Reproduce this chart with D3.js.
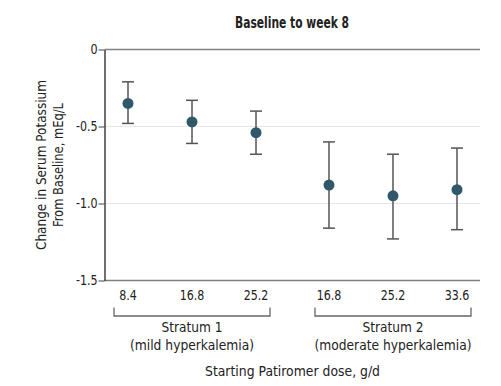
<!DOCTYPE html>
<html>
<head>
<meta charset="utf-8">
<script src="https://cdn.jsdelivr.net/npm/d3@7"></script>
<style>
  body { margin: 0; background: #fff; }
  svg text { font-family: "DejaVu Sans Condensed", "Liberation Sans Narrow", "Roboto", sans-serif; fill: #222; }
</style>
</head>
<body>
<svg id="chart" width="501" height="386"></svg>
<script>
const doses = ["8.4", "16.8", "25.2", "16.8", "25.2", "33.6"];
const slots = [0, 1, 2, 3.14, 4.14, 5.14];
const mean = [-0.35, -0.47, -0.54, -0.88, -0.95, -0.91];
const lower = [-0.48, -0.61, -0.68, -1.16, -1.23, -1.17];
const upper = [-0.21, -0.33, -0.40, -0.60, -0.68, -0.64];
const yTicks = [0, -0.5, -1.0, -1.5];
const strata = [
  { name: "Stratum 1", sub: "(mild hyperkalemia)", from: 0, to: 2 },
  { name: "Stratum 2", sub: "(moderate hyperkalemia)", from: 3, to: 5 }
];

const svg = d3.select("#chart");
const plotL = 104.5, plotR = 480, plotT = 49.5, plotB = 280.5;

const x = d3.scaleLinear().domain([0, 5.14]).range([128, 457]);
const y = d3.scaleLinear().domain([0, -1.5]).range([plotT, plotB]);

// squeeze text horizontally to get a condensed look
function squeeze(sel, ratio) {
  sel.each(function() {
    const len = this.getComputedTextLength();
    d3.select(this).attr("textLength", (len * ratio).toFixed(1))
      .attr("lengthAdjust", "spacingAndGlyphs");
  });
  return sel;
}
function squeezeTo(sel, w) {
  return sel.attr("textLength", w).attr("lengthAdjust", "spacingAndGlyphs");
}

// gridlines
svg.append("g")
  .selectAll("line")
  .data([-0.5, -1.0])
  .join("line")
    .attr("x1", plotL).attr("x2", plotR)
    .attr("y1", d => y(d)).attr("y2", d => y(d))
    .attr("stroke", "#e6e6e6")
    .attr("stroke-width", 1.2);

// top line and bottom axis
svg.append("line")
  .attr("x1", plotL).attr("x2", plotR)
  .attr("y1", plotT).attr("y2", plotT)
  .attr("stroke", "#808080").attr("stroke-width", 1.3);
svg.append("line")
  .attr("x1", plotL).attr("x2", plotR)
  .attr("y1", plotB).attr("y2", plotB)
  .attr("stroke", "#808080").attr("stroke-width", 1.3);

// y axis
const yAxis = svg.append("g")
  .attr("transform", `translate(${plotL},0)`)
  .call(d3.axisLeft(y).tickValues(yTicks).tickSize(6).tickSizeOuter(0)
    .tickFormat(d => d === 0 ? "0" : d3.format(".1f")(d).replace("−", "-")));
yAxis.select(".domain").attr("stroke", "#222").attr("stroke-width", 1.3);
yAxis.selectAll(".tick line").attr("stroke", "#444");
squeeze(yAxis.selectAll(".tick text").attr("font-size", 14).attr("x", -7)
  .attr("font-family", "DejaVu Sans Condensed").attr("fill", "#222"), 0.88);

// x tick labels
squeeze(svg.append("g")
  .selectAll("text")
  .data(doses)
  .join("text")
    .attr("x", (d, i) => x(slots[i]))
    .attr("y", 300)
    .attr("text-anchor", "middle")
    .attr("font-size", 14)
    .text(d => d), 0.88);

// strata brackets
const br = svg.append("g");
strata.forEach(s => {
  const x0 = x(slots[s.from]) - 14, x1 = x(slots[s.to]) + 14;
  br.append("path")
    .attr("d", `M${x0},307.5V316H${x1}V307.5`)
    .attr("fill", "none")
    .attr("stroke", "#666")
    .attr("stroke-width", 1.3);
  const cx = (x(slots[s.from]) + x(slots[s.to])) / 2;
  squeezeTo(br.append("text").attr("x", cx).attr("y", 332)
    .attr("text-anchor", "middle").attr("font-size", 14.5).text(s.name), 61);
  squeezeTo(br.append("text").attr("x", cx).attr("y", 349.5)
    .attr("text-anchor", "middle").attr("font-size", 14.5).text(s.sub),
    s.from === 0 ? 124 : 157);
});

// error bars
const eb = svg.append("g").attr("stroke", "#555").attr("stroke-width", 1.5);
mean.forEach((m, i) => {
  const cx = x(slots[i]);
  eb.append("line").attr("x1", cx).attr("x2", cx)
    .attr("y1", y(upper[i])).attr("y2", y(lower[i]));
  eb.append("line").attr("x1", cx - 6).attr("x2", cx + 6)
    .attr("y1", y(upper[i])).attr("y2", y(upper[i]));
  eb.append("line").attr("x1", cx - 6).attr("x2", cx + 6)
    .attr("y1", y(lower[i])).attr("y2", y(lower[i]));
});

// points
svg.append("g")
  .selectAll("circle")
  .data(mean)
  .join("circle")
    .attr("cx", (d, i) => x(slots[i]))
    .attr("cy", d => y(d))
    .attr("r", 5.5)
    .attr("fill", "#30576a");

// title
squeezeTo(svg.append("text")
  .attr("x", 292).attr("y", 28)
  .attr("text-anchor", "middle")
  .attr("font-size", 15.5).attr("font-weight", "bold")
  .text("Baseline to week 8"), 114);

// y label
const yl = svg.append("g").attr("transform", "translate(0,165) rotate(-90)");
squeezeTo(yl.append("text").attr("x", 0).attr("y", 46)
  .attr("text-anchor", "middle").attr("font-size", 14.5)
  .text("Change in Serum Potassium"), 170);
squeezeTo(yl.append("text").attr("x", 0).attr("y", 63)
  .attr("text-anchor", "middle").attr("font-size", 14.5)
  .text("From Baseline, mEq/L"), 124);

// x label
squeezeTo(svg.append("text")
  .attr("x", 292.5).attr("y", 376)
  .attr("text-anchor", "middle")
  .attr("font-size", 14.5)
  .text("Starting Patiromer dose, g/d"), 175);
</script>
</body>
</html>
